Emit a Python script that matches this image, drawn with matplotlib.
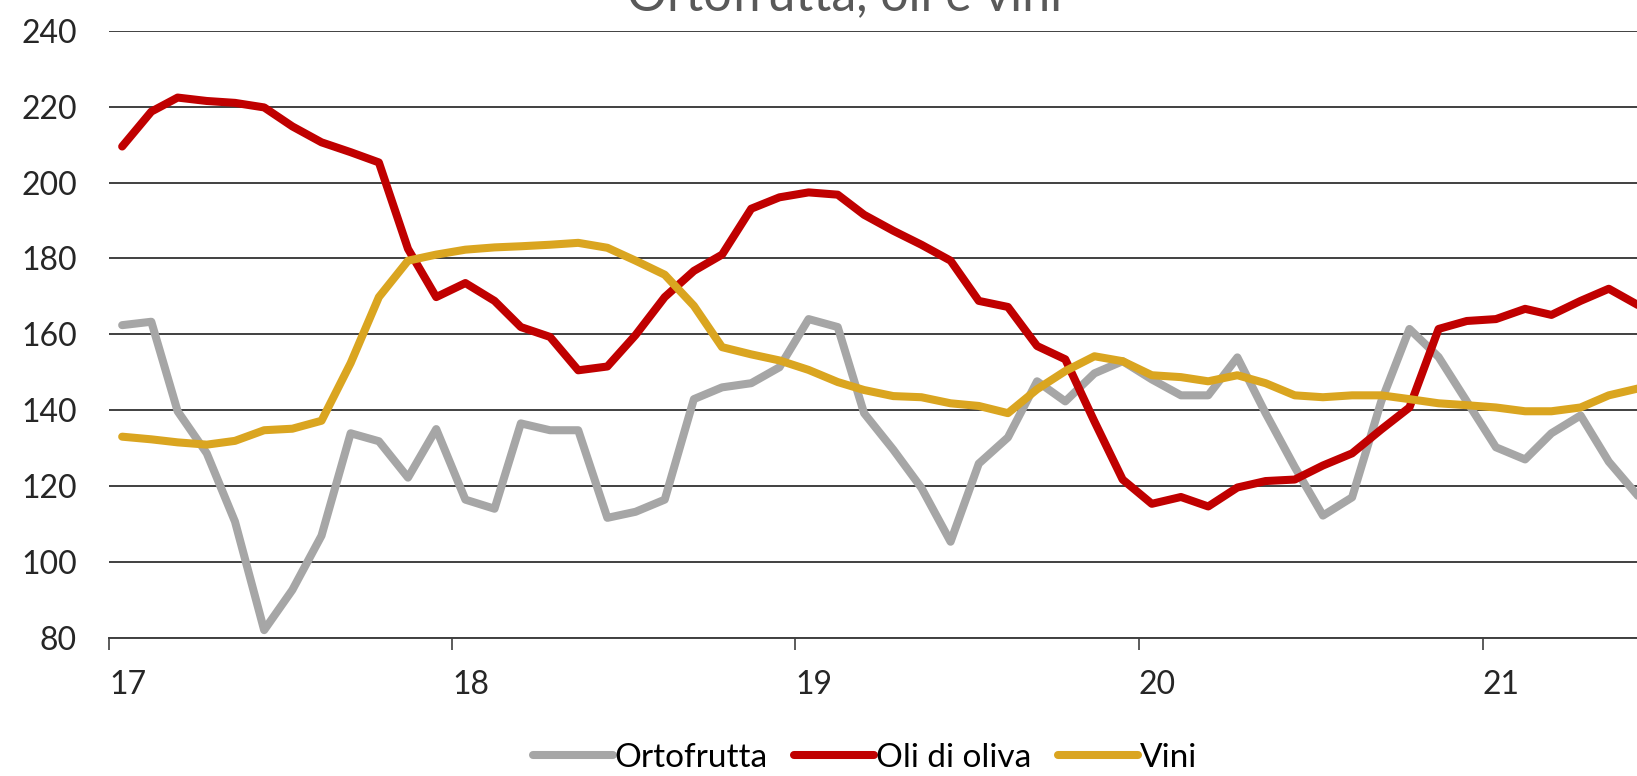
import numpy as np
import pandas as pd
import matplotlib
matplotlib.use("Agg")
import matplotlib.pyplot as plt
import matplotlib.dates as mdates

plt.rcParams['font.family'] = ['Lato', 'DejaVu Sans']

# monthly data, from Jan 2017 (mid-month points)
dates = pd.date_range("2017-01-01", periods=54, freq="MS") + pd.Timedelta(days=14)

ortofrutta = [162.4, 163.3, 139.7, 128.6, 110.6, 82.0, 92.6, 106.9, 133.9, 131.8, 122.2, 135.0, 116.4, 114.0,
              136.5, 134.7, 134.7, 111.6, 113.2, 116.4, 142.9, 146.0, 147.1, 151.3, 164.0, 161.9, 139.2, 129.6,
              119.5, 105.3, 125.9, 132.8, 147.6, 142.3, 149.7, 152.9, 148.1, 143.9, 143.9, 153.9, 139.2, 125.0,
              112.2, 117.0, 142.3, 161.4, 154.0, 142.3, 130.2, 127.0, 133.9, 138.6, 126.4, 117.4]
oli = [209.5, 218.7, 222.4, 221.5, 221.0, 219.8, 214.8, 210.6, 208.0, 205.3, 182.5, 169.8, 173.5, 168.8,
       161.9, 159.3, 150.5, 151.5, 159.8, 169.8, 176.7, 181.0, 193.1, 196.1, 197.4, 196.8, 191.5, 187.3,
       183.6, 179.4, 168.8, 167.2, 156.9, 153.4, 137.0, 121.7, 115.3, 117.1, 114.6, 119.6, 121.3, 121.7,
       125.4, 128.6, 134.9, 140.7, 161.4, 163.5, 164.0, 166.7, 165.1, 168.8, 172.0, 167.7]
vini = [133.0, 132.3, 131.5, 130.9, 131.9, 134.7, 135.1, 137.2, 152.4, 169.8, 179.4, 181.0, 182.3, 182.9,
        183.2, 183.6, 184.1, 182.8, 179.4, 175.7, 167.5, 156.6, 154.7, 153.1, 150.6, 147.4, 145.3, 143.7,
        143.4, 141.8, 141.1, 139.2, 145.5, 150.3, 154.2, 152.9, 149.2, 148.7, 147.6, 149.2, 147.1, 143.9,
        143.4, 143.9, 143.9, 142.9, 141.8, 141.3, 140.7, 139.7, 139.7, 140.7, 143.9, 145.7]

labels = ["Ortofrutta", "Oli di oliva", "Vini"]
colors = ["#A6A6A6", "#C00000", "#DAA520"]
yticks = [80, 100, 120, 140, 160, 180, 200, 220, 240]
xticks = pd.to_datetime(["2017-01-01", "2018-01-01", "2019-01-01", "2020-01-01", "2021-01-01"])

fig = plt.figure(figsize=(16.37, 7.76), dpi=100)
ax = fig.add_axes([109 / 1637, 0.1782, 1 - 109 / 1637, 0.9603 - 0.1782])

for series, lab, col in zip([ortofrutta, oli, vini], labels, colors):
    ax.plot(dates, series, color=col, lw=5.8, label=lab,
            solid_joinstyle="round", solid_capstyle="round", zorder=3)

ax.set_ylim(80, 240)
ax.set_yticks(yticks)
ax.set_xlim(pd.Timestamp("2017-01-01"), pd.Timestamp("2021-06-14"))
ax.set_xticks(xticks)
ax.xaxis.set_major_formatter(mdates.DateFormatter("%y"))
for t in ax.get_xticklabels():
    t.set_horizontalalignment("left")

gridc = "#404040"
ax.yaxis.grid(True, color=gridc, lw=1.4, zorder=1)
for s in ["top", "right", "left"]:
    ax.spines[s].set_visible(False)
ax.spines["bottom"].set_color(gridc)
ax.spines["bottom"].set_linewidth(1.4)
ax.tick_params(axis="y", length=0, pad=23, labelsize=23, labelcolor="#262626")
ax.tick_params(axis="x", length=8.3, width=1.2, color=gridc, pad=15, labelsize=23, labelcolor="#262626")

# title is partly cut off at the top, as in the source
fig.text(0.516, 1 - 10 / 776, "Ortofrutta, oli e vini", ha="center", va="baseline",
         fontsize=36, color="#595959")

ax.legend(loc="center", bbox_to_anchor=(865 / 1637, 1 - 758 / 776), bbox_transform=fig.transFigure,
          ncol=3, frameon=False, fontsize=24, handlelength=2.4, handletextpad=0.05,
          columnspacing=0.8)

fig.savefig("out.png", dpi=100)
